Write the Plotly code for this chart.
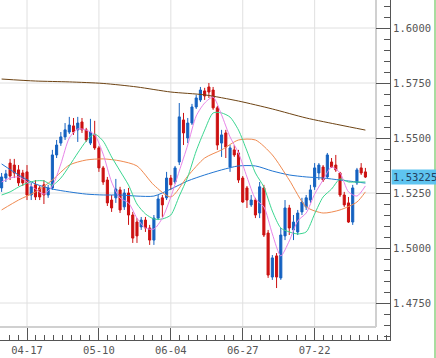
import plotly.graph_objects as go

# ---------------- data ----------------
# trading-day index (0 = 04-17)
candle_idx = list(range(-6, 81))

open_ = [1.5273, 1.5318, 1.5386, 1.5377, 1.5355, 1.5341, 1.5346, 1.5241, 1.5287, 1.5273,
         1.5287, 1.5241, 1.5273, 1.5423, 1.5477, 1.5505, 1.5527, 1.5555, 1.5537, 1.5573,
         1.5537, 1.5477, 1.5514, 1.5455, 1.5364, 1.5309, 1.5218, 1.5228, 1.5264, 1.5187,
         1.5250, 1.5150, 1.5118, 1.5096, 1.5127, 1.5091, 1.5036, 1.5136, 1.5228, 1.5228,
         1.5318, 1.5300, 1.5391, 1.5582, 1.5500, 1.5568, 1.5641, 1.5673, 1.5714, 1.5732,
         1.5718, 1.5637, 1.5477, 1.5523, 1.5368, 1.5446, 1.5432, 1.5318, 1.5273, 1.5196,
         1.5218, 1.5159, 1.5273, 1.5068, 1.4868, 1.4964, 1.4864, 1.5055, 1.5182, 1.5082,
         1.5073, 1.5164, 1.5187, 1.5218, 1.5278, 1.5341, 1.5368, 1.5323, 1.5391, 1.5377,
         1.5341, 1.5241, 1.5205, 1.5118, 1.5296, 1.5364, 1.5346]
high = [1.5341, 1.5355, 1.5405, 1.5405, 1.5377, 1.5355, 1.5377, 1.5296, 1.5309, 1.5282,
        1.5309, 1.5287, 1.5446, 1.5491, 1.5527, 1.5568, 1.5596, 1.5591, 1.5596, 1.5591,
        1.5546, 1.5587, 1.5578, 1.5464, 1.5373, 1.5323, 1.5241, 1.5314, 1.5278, 1.5268,
        1.5273, 1.5164, 1.5136, 1.5141, 1.5141, 1.5105, 1.5150, 1.5241, 1.5241, 1.5346,
        1.5332, 1.5373, 1.5659, 1.5614, 1.5591, 1.5655, 1.5696, 1.5732, 1.5728, 1.5750,
        1.5732, 1.5646, 1.5537, 1.5537, 1.5468, 1.5468, 1.5446, 1.5327, 1.5282, 1.5241,
        1.5228, 1.5300, 1.5287, 1.5082, 1.4968, 1.4977, 1.5091, 1.5218, 1.5196, 1.5150,
        1.5173, 1.5228, 1.5241, 1.5287, 1.5386, 1.5386, 1.5377, 1.5432, 1.5409, 1.5423,
        1.5346, 1.5255, 1.5232, 1.5287, 1.5364, 1.5386, 1.5364]
low = [1.5255, 1.5300, 1.5309, 1.5318, 1.5282, 1.5282, 1.5218, 1.5218, 1.5218, 1.5218,
       1.5200, 1.5228, 1.5264, 1.5409, 1.5464, 1.5491, 1.5518, 1.5514, 1.5482, 1.5523,
       1.5482, 1.5468, 1.5446, 1.5346, 1.5287, 1.5191, 1.5164, 1.5205, 1.5159, 1.5173,
       1.5105, 1.5023, 1.5023, 1.5082, 1.5073, 1.5014, 1.5014, 1.5127, 1.5141, 1.5218,
       1.5264, 1.5291, 1.5377, 1.5468, 1.5477, 1.5559, 1.5632, 1.5664, 1.5673, 1.5682,
       1.5628, 1.5446, 1.5414, 1.5409, 1.5346, 1.5414, 1.5296, 1.5205, 1.5182, 1.5187,
       1.5136, 1.5136, 1.5050, 1.4864, 1.4855, 1.4818, 1.4855, 1.5036, 1.5059, 1.5036,
       1.5059, 1.5150, 1.5173, 1.5205, 1.5264, 1.5309, 1.5300, 1.5318, 1.5364, 1.5346,
       1.5232, 1.5187, 1.5114, 1.5105, 1.5287, 1.5332, 1.5318]
close = [1.5323, 1.5337, 1.5327, 1.5341, 1.5296, 1.5296, 1.5241, 1.5278, 1.5232, 1.5232,
         1.5241, 1.5273, 1.5423, 1.5468, 1.5505, 1.5537, 1.5559, 1.5527, 1.5568, 1.5537,
         1.5491, 1.5527, 1.5455, 1.5364, 1.5300, 1.5205, 1.5182, 1.5268, 1.5173, 1.5250,
         1.5150, 1.5045, 1.5055, 1.5127, 1.5091, 1.5036, 1.5136, 1.5223, 1.5196, 1.5318,
         1.5287, 1.5364, 1.5596, 1.5523, 1.5568, 1.5641, 1.5682, 1.5718, 1.5691, 1.5709,
         1.5637, 1.5468, 1.5514, 1.5459, 1.5455, 1.5423, 1.5309, 1.5209, 1.5218, 1.5218,
         1.5150, 1.5278, 1.5059, 1.4877, 1.4955, 1.4868, 1.5059, 1.5182, 1.5091, 1.5118,
         1.5159, 1.5209, 1.5228, 1.5264, 1.5364, 1.5377, 1.5309, 1.5423, 1.5368, 1.5355,
         1.5241, 1.5196, 1.5118, 1.5273, 1.5355, 1.5341, 1.53225]

# moving averages
ma_fast_idx = list(range(-6, 81, 2))
ma_pink = [1.5300, 1.5318, 1.5323, 1.5300, 1.5268, 1.5245, 1.5282, 1.5382, 1.5500, 1.5541,
           1.5536, 1.5514, 1.5427, 1.5300, 1.5227, 1.5205, 1.5136, 1.5091, 1.5086, 1.5136,
           1.5232, 1.5350, 1.5468, 1.5600, 1.5659, 1.5686, 1.5605, 1.5505, 1.5432, 1.5323,
           1.5223, 1.5187, 1.5064, 1.4964, 1.5032, 1.5123, 1.5159, 1.5245, 1.5309, 1.5368,
           1.5341, 1.5255, 1.5236, 1.5282]
ma_green = [1.5241, 1.5255, 1.5277, 1.5295, 1.5305, 1.5305, 1.5286, 1.5318, 1.5373, 1.5432,
            1.5486, 1.5518, 1.5486, 1.5414, 1.5350, 1.5286, 1.5200, 1.5155, 1.5132, 1.5132,
            1.5150, 1.5236, 1.5323, 1.5441, 1.5536, 1.5614, 1.5614, 1.5595, 1.5536, 1.5441,
            1.5341, 1.5277, 1.5168, 1.5091, 1.5073, 1.5064, 1.5073, 1.5155, 1.5232, 1.5268,
            1.5314, 1.5300, 1.5300, 1.5300]
ma_mid_idx = [-6, -2, 2, 6, 10, 14, 18, 22, 26, 30, 34, 38, 42, 46, 50, 54, 58, 62, 66, 70, 74, 78, 80]
ma_orange = [1.5173, 1.5218, 1.5255, 1.5309, 1.5377, 1.5400, 1.5405, 1.5396, 1.5373, 1.5286,
             1.5232, 1.5327, 1.5409, 1.5446, 1.5491, 1.5491, 1.5423, 1.5309, 1.5187, 1.5159,
             1.5173, 1.5209, 1.5255]
ma_blue = [1.5382, 1.5332, 1.5291, 1.5268, 1.5255, 1.5245, 1.5241, 1.5241, 1.5236, 1.5236,
           1.5268, 1.5305, 1.5332, 1.5355, 1.5373, 1.5373, 1.5350, 1.5332, 1.5323, 1.5318,
           1.5309, 1.5300, 1.5295]
ma_slow_idx = [-6, 2, 10, 18, 26, 34, 42, 50, 58, 66, 74, 80]
ma_brown = [1.5768, 1.5759, 1.5755, 1.5748, 1.5732, 1.5709, 1.5696, 1.5668, 1.5632, 1.5591,
            1.5559, 1.5536]

x_tick_pos = [0, 17, 34, 51, 68]
x_tick_text = ["04-17", "05-10", "06-04", "06-27", "07-22"]
price_ticks = [1.4750, 1.5000, 1.5250, 1.5500, 1.5750, 1.6000]
last_price = 1.53225

# ---------------- figure ----------------
W, H = 436, 358
fig = go.Figure()

fig.add_trace(go.Candlestick(
    x=candle_idx, open=open_, high=high, low=low, close=close,
    increasing=dict(line=dict(color="#1562c0", width=1), fillcolor="#1562c0"),
    decreasing=dict(line=dict(color="#cc1111", width=1), fillcolor="#cc1111"),
    whiskerwidth=0, hoverinfo="skip", showlegend=False,
))

def ma(x, y, color):
    fig.add_trace(go.Scatter(x=x, y=y, mode="lines",
                             line=dict(color=color, width=1, shape="spline", smoothing=0.7),
                             hoverinfo="skip", showlegend=False))

ma(ma_slow_idx, ma_brown, "#6e4414")
ma(ma_mid_idx, ma_blue, "#2276d2")
ma(ma_mid_idx, ma_orange, "#f08a50")
ma(ma_fast_idx, ma_green, "#3ad690")
ma(ma_fast_idx, ma_pink, "#e884e8")

# geometry (pixels)
spacing = 4.23
x_left = -27 / spacing
x_right = (390 - 27) / spacing
y_top = 1.6 + 28 / 2200
y_bot = 1.6 - 312 / 2200
plot_right = 376 / W
plot_bottom = (H - 327) / H

grid_col = "#e0e0e0"
for v in x_tick_pos:
    fig.add_shape(type="line", xref="x", yref="paper", x0=v, x1=v, y0=plot_bottom, y1=1,
                  line=dict(color=grid_col, width=1), layer="below")
for v in price_ticks:
    fig.add_shape(type="line", xref="paper", yref="y", x0=0, x1=plot_right, y0=v, y1=v,
                  line=dict(color=grid_col, width=1), layer="below")
# plot frame (right and bottom)
fig.add_shape(type="line", xref="paper", yref="paper", x0=plot_right, x1=plot_right,
              y0=plot_bottom, y1=1, line=dict(color="#d0d0d0", width=2), layer="below")
fig.add_shape(type="line", xref="paper", yref="paper", x0=0, x1=plot_right,
              y0=plot_bottom, y1=plot_bottom, line=dict(color="#d0d0d0", width=2), layer="below")
# green window edge
fig.add_shape(type="line", xref="paper", yref="paper", x0=435 / W, x1=435 / W, y0=0, y1=1,
              line=dict(color="#a9dca0", width=2))

mono = "DejaVu Sans Mono"
fig.add_annotation(xref="paper", yref="y", x=390.5 / W, y=last_price, xanchor="left",
                   yanchor="middle", text=f"{last_price:.5f}", showarrow=False,
                   bgcolor="#5ec4f0", borderpad=1,
                   font=dict(family=mono, size=10.5, color="#23405f"))

fig.update_layout(
    width=W, height=H, margin=dict(l=0, r=0, t=0, b=0, pad=0, autoexpand=False),
    paper_bgcolor="white", plot_bgcolor="white", showlegend=False,
    xaxis=dict(domain=[0, 390 / W], range=[x_left, x_right], tickmode="array",
               tickvals=x_tick_pos, ticktext=x_tick_text, ticks="inside", ticklen=12,
               tickcolor="#555", tickwidth=1, showline=True, linecolor="#555", linewidth=1,
               showgrid=False, zeroline=False, rangeslider=dict(visible=False),
               automargin=False,
               minor=dict(ticks="inside", ticklen=5, tick0=0, dtick=17 / 8,
                          tickcolor="#555", showgrid=False),
               tickfont=dict(family=mono, size=10.5, color="#555")),
    yaxis=dict(domain=[18 / H, 1], range=[y_bot, y_top], side="right", tickmode="array",
               tickvals=price_ticks, ticktext=[f"{v:.4f}" for v in price_ticks],
               ticks="inside", ticklen=14, tickcolor="#555", tickwidth=1,
               showline=True, linecolor="#555", linewidth=1, showgrid=False, zeroline=False,
               automargin=False,
               minor=dict(ticks="inside", ticklen=6, tick0=1.6, dtick=0.005,
                          tickcolor="#555", showgrid=False),
               tickfont=dict(family=mono, size=10.5, color="#555")),
)

fig.write_html("out.html", config={"displayModeBar": False},
               post_script="document.body.style.margin='0';document.body.style.overflow='hidden';")
